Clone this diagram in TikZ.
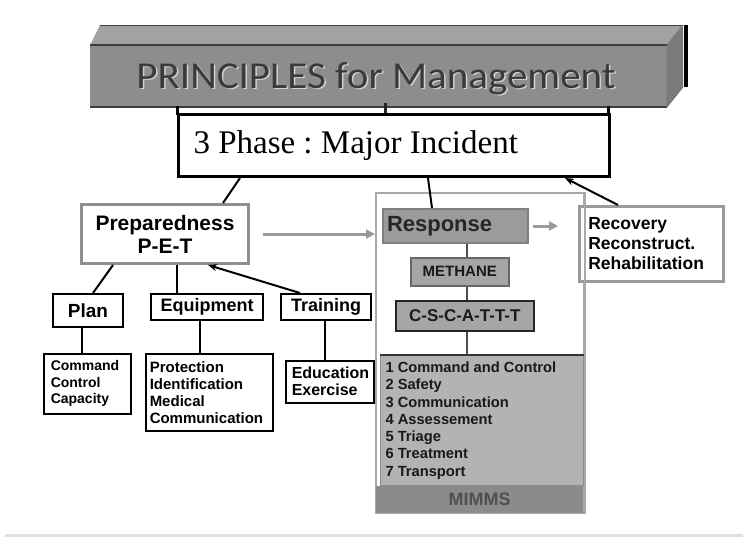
\documentclass[tikz,border=0pt]{standalone}
\usepackage{fontspec}
\usepackage{graphicx}
\usetikzlibrary{arrows.meta,calc}
\newfontfamily\bannerfont{Carlito}
\newfontfamily\phasefont{Liberation Serif}
\newfontfamily\labelfont{Liberation Sans}
\definecolor{frontgray}{HTML}{8D8D8D}
\definecolor{topgray}{HTML}{A2A2A2}
\definecolor{sidegray}{HTML}{7B7B7B}
\definecolor{edgegray}{HTML}{3D3D3D}
\definecolor{bannertext}{HTML}{3A3A3A}
\definecolor{prepborder}{HTML}{8F8F8F}
\definecolor{groupborder}{HTML}{A9A9A9}
\definecolor{respfill}{HTML}{9B9B9B}
\definecolor{stepfill}{HTML}{A5A5A5}
\definecolor{listfill}{HTML}{B3B3B3}
\definecolor{mimmsfill}{HTML}{8B8B8B}
\definecolor{mimmstext}{HTML}{505050}
\definecolor{flowgray}{HTML}{9A9A9A}
\frenchspacing
\begin{document}
\begin{tikzpicture}[x=1pt,y=-1pt,
  box/.style={draw=black,line width=2pt,fill=white,inner sep=0pt,anchor=north west,
    text=black,font={\labelfont\bfseries}},
  listbox/.style={draw=black,line width=1.5pt,fill=white,inner ysep=0pt,anchor=north west,
    align=flush left,text=black},
  graystep/.style={fill=stepfill,draw=#1,line width=1.6pt,inner sep=0pt,anchor=north west,
    text=black!90,font={\labelfont\bfseries\fontsize{15}{17}\selectfont}},
  link/.style={draw=black,line width=2pt},
  darklink/.style={draw=black!70,line width=2pt},
  flow/.style={draw=flowgray,line width=3pt,-{Triangle[length=9pt,width=9pt]}},
  back/.style={draw=black,line width=2pt,-{Stealth[length=9pt,width=7pt]}}
]
\useasboundingbox[fill=white] (0,0) rectangle (743,539);

% ---- 3D banner ----
\fill[topgray] (90,45) -- (100,25) -- (683,25) -- (667,45) -- cycle;
\fill[sidegray] (667,45) -- (683,25) -- (683,87) -- (667,107) -- cycle;
\fill[frontgray] (90,45) rectangle (667,107);
\draw[edgegray,line width=1pt] (100,25) -- (683,25);
\draw[edgegray,line width=2pt] (90,45) -- (667,45);
\draw[edgegray,line width=2.5pt] (90,107) -- (667,107);
\draw[edgegray!70,line width=0.8pt] (667,45) -- (667,107) (667,45) -- (683,25) (667,107) -- (683,87);
\draw[black,line width=3.5pt] (686,25) -- (686,87);
\node[anchor=base,text=black!18,font={\bannerfont\fontsize{38}{40}\selectfont}]
  (bannershadow) at (377.5,89.5) {\scalebox{1.08}[1]{PRINCIPLES for Management}};
\node[anchor=base,text=bannertext,font={\bannerfont\fontsize{38}{40}\selectfont}]
  (banner) at (376,88) {\scalebox{1.08}[1]{PRINCIPLES for Management}};

% ---- hanging phase box ----
\draw[black,line width=3pt] (177,106) -- (177,115) (608,106) -- (608,115);
\draw[black!85,line width=3pt] (385,103) -- (385,121);
\node[draw=black,line width=3pt,fill=white,anchor=north west,inner xsep=15pt,inner ysep=0pt,
  text width=401pt,minimum height=62pt,align=flush left,
  font={\phasefont\fontsize{33}{36}\selectfont}] (phase) at (177,113)
  {3 Phase : Major Incident};

% ---- response group ----
\node[draw=groupborder,line width=2pt,anchor=north west,inner sep=0pt,
  minimum width=208pt,minimum height=320pt] (grp) at (375,192) {};
\node[fill=mimmsfill,anchor=south west,inner sep=0pt,minimum width=207pt,minimum height=27pt,
  text=mimmstext,font={\labelfont\bfseries\fontsize{18}{20}\selectfont}]
  (mimms) at ([xshift=1pt,yshift=1pt]grp.south west) {MIMMS};

\node[fill=respfill,draw=black!50,line width=2pt,anchor=north west,inner xsep=4pt,inner ysep=0pt,
  text width=137pt,minimum height=34pt,align=flush left,text=black!85,
  font={\labelfont\bfseries\fontsize{22}{24}\selectfont}] (resp) at (382,208) {Response};
\node[graystep=black!60,minimum width=98pt,minimum height=28pt] (meth) at (410,257) {METHANE};
\node[graystep=black!85,minimum width=138pt,minimum height=30pt,
  font={\labelfont\bfseries\fontsize{17}{19}\selectfont}] (csca) at (395,300) {C-S-C-A-T-T-T};
\node[fill=listfill,draw=black!45,line width=1pt,anchor=north west,inner xsep=5pt,inner ysep=0pt,
  text width=193pt,minimum height=130pt,align=flush left,text=black!90,
  font={\labelfont\bfseries\fontsize{14.7}{17.3}\selectfont}] (list) at (380,355)
  {1 Command and Control\\2 Safety\\3 Communication\\4 Assessement\\5 Triage\\6 Treatment\\7 Transport};
\draw[black!80,line width=1.5pt] (list.north west) -- (list.north east);

% ---- recovery ----
\node[draw=flowgray,line width=2.5pt,fill=white,anchor=north west,inner xsep=9pt,inner ysep=0pt,
  text width=126pt,minimum height=75pt,align=flush left,text=black,
  font={\labelfont\bfseries\fontsize{17.5}{20}\selectfont}] (rec) at (578,205)
  {Recovery\\Reconstruct.\\Rehabilitation};
\draw[groupborder,line width=2pt] (grp.north east) -- (grp.south east);

% ---- preparedness branch ----
\node[draw=prepborder,line width=3pt,fill=white,anchor=north west,inner sep=0pt,
  minimum width=167pt,minimum height=59pt,align=center,text=black,
  font={\labelfont\bfseries\fontsize{21}{23}\selectfont}] (prep) at (80,203)
  {Preparedness\\P-E-T};
\node[box,minimum width=70pt,minimum height=33pt,font={\labelfont\bfseries\fontsize{19}{21}\selectfont}]
  (plan) at (52,293) {Plan};
\node[box,minimum width=112pt,minimum height=26pt,font={\labelfont\bfseries\fontsize{18}{20}\selectfont}]
  (equip) at (150,293) {Equipment};
\node[box,minimum width=90pt,minimum height=26pt,font={\labelfont\bfseries\fontsize{18}{20}\selectfont}]
  (train) at (280,293) {Training};

\node[listbox,inner xsep=7pt,text width=73pt,minimum height=60pt,
  font={\labelfont\bfseries\fontsize{14}{16.5}\selectfont}] (cmd) at (43,353)
  {Command\\Control\\Capacity};
\node[listbox,inner xsep=4pt,text width=119pt,minimum height=77pt,
  font={\labelfont\bfseries\fontsize{15}{17}\selectfont}] (prot) at (145,353)
  {Protection\\Identification\\Medical\\Communication};
\node[listbox,inner xsep=6pt,text width=76pt,minimum height=42pt,
  font={\labelfont\bfseries\fontsize{16}{17}\selectfont}] (edu) at (285,360)
  {Education\\Exercise};

% ---- connectors ----
\draw[link] ([xshift=63pt]phase.south west) -- ([xshift=143pt]prep.north west);
\draw[link] ([xshift=251pt]phase.south west) -- ([xshift=50pt]resp.north west);
\draw[back] ([xshift=40pt]rec.north west) -- ([xshift=388pt]phase.south west);

\draw[link] ([xshift=33pt]prep.south west) -- ([xshift=41pt]plan.north west);
\draw[link] ([xshift=97pt]prep.south west) -- ([xshift=27pt]equip.north west);
\draw[back] ([xshift=20pt]train.north west) -- ([xshift=128pt]prep.south west);
\draw[link,line width=1.5pt] ([xshift=30pt]plan.south west) -- ([xshift=39pt]cmd.north west);
\draw[link] ([xshift=50pt]equip.south west) -- ([xshift=55pt]prot.north west);
\draw[link] ([xshift=45pt]train.south west) -- ([xshift=40pt]edu.north west);

\draw[flow] ([xshift=13pt]prep.east) -- (prep.east -| grp.west);
\draw[flow] ([xshift=4pt]resp.east) -- ([xshift=-20pt]rec.west |- resp.east);
\draw[darklink] ([xshift=85pt]resp.south west) -- ([xshift=57pt]meth.north west);
\draw[darklink] ([xshift=57pt]meth.south west) -- ([xshift=72pt]csca.north west);
\draw[darklink] ([xshift=72pt]csca.south west) -- ([xshift=87pt]list.north west);

% faint rule along the foot
\draw[black!12,line width=3pt] (5,535) -- (743,535);
\end{tikzpicture}
\end{document}
